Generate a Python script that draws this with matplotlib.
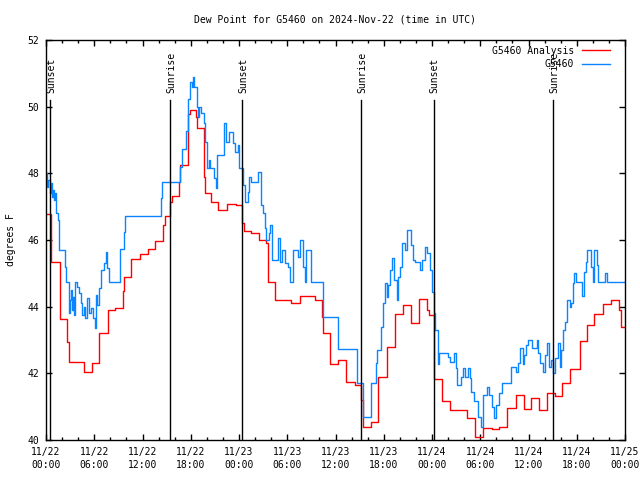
import matplotlib
matplotlib.use("Agg")
from matplotlib import pyplot as plt
from matplotlib.ticker import MultipleLocator

plt.rcParams['font.family'] = ['DejaVu Sans Mono']
plt.rcParams['font.size'] = 7

### data (hours since 11/22 00:00 UTC, step values in deg F) ###

analysis_t = [0.0, 0.66, 1.7, 2.65, 2.8, 4.7, 5.68, 6.59, 7.7, 8.6, 9.62, 9.7, 10.6, 11.7,
              12.7, 13.5, 14.5, 14.8, 15.4, 15.7, 16.6, 16.7, 17.6, 17.9, 18.6, 18.8, 19.6,
              19.8, 20.5, 21.4, 22.5, 23.6, 24.42, 24.63, 25.54, 26.45, 27.4, 27.6, 28.44,
              30.5, 31.55, 33.4, 34.3, 34.45, 35.3, 36.3, 37.35, 38.4, 39.2, 39.43, 40.4,
              41.3, 42.45, 43.4, 44.4, 45.36, 46.35, 47.4, 47.6, 48.2, 49.3, 50.3, 52.35,
              53.4, 54.3, 55.4, 56.3, 57.3, 58.4, 59.4, 60.35, 61.3, 62.3, 63.25, 64.2,
              65.2, 66.4, 67.3, 68.2, 69.3, 70.3, 71.2, 71.5, 72.0]
analysis_v = [46.78, 45.33, 43.63, 42.95, 42.33, 42.03, 42.3, 43.2, 43.9, 43.95, 44.47, 44.88,
              45.42, 45.58, 45.73, 45.96, 46.45, 46.72, 47.13, 47.33, 47.74, 48.24, 49.77,
              49.9, 49.7, 49.35, 47.9, 47.4, 47.14, 46.9, 47.07, 47.05, 46.5, 46.26, 46.2,
              46.0, 45.92, 44.75, 44.2, 44.1, 44.32, 44.2, 43.7, 43.2, 42.27, 42.4, 41.75,
              41.65, 41.2, 40.4, 40.55, 41.88, 42.8, 43.77, 44.04, 43.5, 44.22, 43.9, 43.75,
              41.82, 41.17, 40.9, 40.65, 40.1, 40.35, 40.32, 40.38, 40.95, 41.35, 40.92,
              41.27, 40.9, 41.42, 41.32, 41.7, 42.13, 42.97, 43.45, 43.77, 44.07, 44.2,
              43.9, 43.4, 43.4]

obs_t = [0.0, 0.15, 0.3, 0.45, 0.6, 0.75, 0.9, 1.0, 1.15, 1.3, 1.45, 1.6, 2.35, 2.45, 2.86,
         3.0, 3.1, 3.2, 3.35, 3.5, 3.6, 3.8, 4.1, 4.3, 4.5, 4.7, 4.85, 5.15, 5.35, 5.55,
         5.9, 6.05, 6.2, 6.4, 6.6, 6.8, 7.2, 7.4, 7.6, 7.85, 9.2, 9.7, 9.8, 14.3, 14.4,
         16.7, 16.9, 17.4, 17.7, 17.9, 18.1, 18.25, 18.4, 18.75, 18.9, 19.05, 19.3, 19.6,
         19.8, 20.0, 20.3, 20.4, 20.9, 21.1, 21.3, 22.1, 22.35, 22.7, 23.2, 23.5, 23.9,
         24.05, 24.5, 24.8, 25.1, 25.3, 25.5, 26.4, 26.7, 27.0, 27.2, 27.4, 27.7, 27.9,
         28.15, 28.8, 29.15, 29.4, 29.7, 30.1, 30.4, 30.7, 31.3, 31.55, 32.0, 32.2, 32.3,
         32.95, 34.4, 36.3, 38.7, 39.4, 40.4, 41.0, 41.2, 41.6, 41.85, 42.1, 42.4, 42.5,
         42.8, 43.0, 43.3, 43.6, 43.8, 44.0, 44.25, 44.6, 44.95, 45.4, 45.6, 45.85, 46.5,
         46.75, 47.15, 47.4, 47.8, 48.0, 48.2, 48.4, 48.7, 48.9, 50.0, 50.2, 50.7, 51.0,
         51.1, 51.6, 51.9, 52.1, 52.5, 52.7, 52.9, 53.2, 53.7, 54.05, 54.3, 54.9, 55.05,
         55.5, 55.7, 56.0, 56.3, 56.7, 57.8, 58.4, 58.7, 59.0, 59.3, 59.5, 59.7, 59.9,
         60.4, 61.0, 61.2, 61.4, 61.8, 62.1, 62.3, 62.5, 62.8, 63.0, 63.3, 63.7, 63.9,
         64.1, 64.3, 64.6, 64.8, 65.1, 65.3, 65.5, 65.7, 65.9, 66.7, 66.9, 67.2, 67.3,
         67.8, 68.0, 68.2, 68.5, 68.7, 69.5, 69.8, 72.0]
obs_v = [48.0, 47.6, 47.8, 47.4, 47.7, 47.3, 47.5, 47.2, 47.4, 46.8, 46.6, 45.7, 45.2, 44.75,
         43.8, 44.2, 44.5, 43.9, 44.3, 43.75, 44.75, 44.6, 44.4, 44.1, 43.75, 44.0, 43.65,
         44.25, 43.8, 43.95, 43.65, 43.35, 44.35, 44.05, 44.55, 45.1, 45.3, 45.65, 45.15,
         44.75, 45.72, 46.25, 46.73, 47.25, 47.73, 48.2, 48.72, 49.27, 50.22, 50.73, 50.6,
         50.9, 50.6, 50.0, 49.7, 50.0, 49.8, 49.5, 48.95, 48.15, 48.4, 48.15, 47.85, 47.55,
         48.55, 49.5, 48.95, 49.25, 48.9, 48.65, 48.85, 48.15, 47.65, 47.15, 47.45, 47.9,
         47.75, 48.05, 47.05, 46.8, 46.35, 46.0, 46.2, 46.45, 45.4, 46.05, 45.35, 45.7,
         45.3, 45.2, 44.75, 45.7, 45.5, 46.0, 45.2, 44.75, 45.7, 44.75, 43.7, 42.73, 41.72,
         40.7, 41.72, 42.3, 42.7, 43.4, 44.1, 44.7, 44.3, 44.65, 45.1, 45.45, 44.8, 44.2,
         44.9, 45.2, 45.9, 45.7, 46.3, 45.85, 45.4, 45.35, 45.1, 45.4, 45.8, 45.6,
         45.1, 44.45, 43.8, 43.3, 42.27, 42.62, 42.5, 42.35, 42.62, 42.15, 41.65, 41.9,
         42.17, 41.9, 42.17, 41.87, 41.45, 41.18, 40.7, 40.4, 41.35, 41.6, 41.35, 41.0,
         40.65, 41.05, 41.42, 41.72, 42.2, 42.05, 42.3, 42.75, 42.28, 42.55, 42.85, 43.0,
         42.75, 43.0, 42.6, 42.3, 42.05, 42.55, 42.9, 42.2, 42.4, 42.0, 42.45, 42.9, 42.2,
         42.7, 43.3, 43.55, 44.2, 44.0, 44.1, 44.7, 45.0, 44.75, 44.32, 45.05, 45.35, 45.7,
         45.2, 44.75, 45.7, 45.25, 44.75, 45.0, 44.75, 44.75]

sun_t = [0.54, 15.38, 24.42, 39.22, 48.2, 63.1]
sun_labels = ["Sunset", "Sunrise", "Sunset", "Sunrise", "Sunset", "Sunrise"]

xtick_hours = [0, 6, 12, 18, 24, 30, 36, 42, 48, 54, 60, 66, 72]
xtick_labels = ["11/22\n00:00", "11/22\n06:00", "11/22\n12:00", "11/22\n18:00",
                "11/23\n00:00", "11/23\n06:00", "11/23\n12:00", "11/23\n18:00",
                "11/24\n00:00", "11/24\n06:00", "11/24\n12:00", "11/24\n18:00",
                "11/25\n00:00"]

### plot ###

fig = plt.figure(figsize=(6.4, 4.8), dpi=100)
ax = fig.add_axes([46 / 640, 40 / 480, 579 / 640, 400 / 480])

ax.step(analysis_t, analysis_v, where='post', color='#ff0000', lw=1.0, label="G5460 Analysis")
ax.step(obs_t, obs_v, where='post', color='#0a84ff', lw=1.0, label="G5460")

for t, lab in zip(sun_t, sun_labels):
    ax.plot([t, t], [40, 50.2], color='black', lw=1.0)
    ax.text(t + 0.15, 50.42, lab, rotation=90, ha='center', va='bottom', fontsize=7)

ax.set_xlim(0, 72)
ax.set_ylim(40, 52)
ax.set_xticks(xtick_hours)
ax.set_xticklabels(xtick_labels, linespacing=1.4)
ax.xaxis.set_minor_locator(MultipleLocator(2))
ax.set_yticks([40, 42, 44, 46, 48, 50, 52])
ax.tick_params(which='both', direction='in', top=True, right=True, width=1)
ax.tick_params(which='major', length=4, pad=5)
ax.tick_params(which='minor', length=2.5)
for s in ax.spines.values():
    s.set_linewidth(1)

ax.set_title("Dew Point for G5460 on 2024-Nov-22 (time in UTC)", fontsize=7, pad=12.5)
ax.set_ylabel("degrees F", labelpad=8)

ax.legend(loc='upper right', bbox_to_anchor=(0.974, 0.986), borderaxespad=0, borderpad=0,
          frameon=False, markerfirst=False, handlelength=2.9, handletextpad=0.8,
          labelspacing=0.35, fontsize=7)

plt.savefig("out.png")
